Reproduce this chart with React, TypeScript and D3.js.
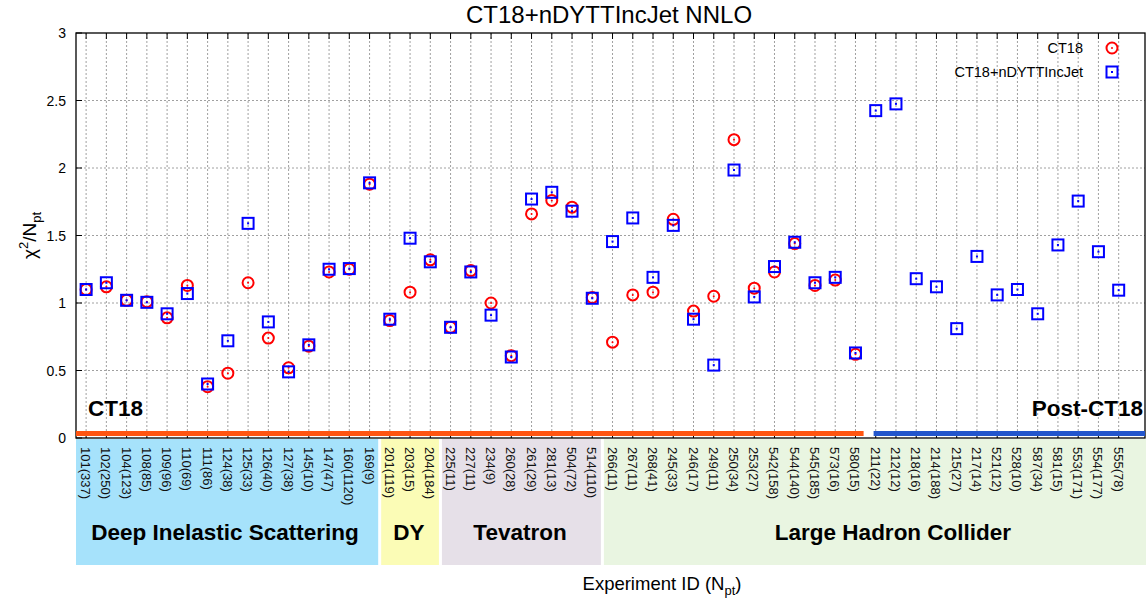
import * as d3 from "d3";

// experiment ids with number of points
const labels = [
  "101(337)", "102(250)", "104(123)", "108(85)", "109(96)", "110(69)", "111(86)", "124(38)",
  "125(33)", "126(40)", "127(38)", "145(10)", "147(47)", "160(1120)", "169(9)",
  "201(119)", "203(15)", "204(184)",
  "225(11)", "227(11)", "234(9)", "260(28)", "261(29)", "281(13)", "504(72)", "514(110)",
  "266(11)", "267(11)", "268(41)", "245(33)", "246(17)", "249(11)", "250(34)", "253(27)",
  "542(158)", "544(140)", "545(185)", "573(16)", "580(15)",
  "211(22)", "212(12)", "218(16)", "214(188)", "215(27)", "217(14)", "521(12)", "528(10)",
  "587(34)", "581(15)", "553(171)", "554(177)", "555(78)",
];

// chi2/Npt for CT18 (null = not in CT18 fit)
const ct18 = [
  1.10, 1.12, 1.02, 1.01, 0.89, 1.13, 0.38, 0.48, 1.15, 0.74, 0.52, 0.68, 1.23, 1.25, 1.88,
  0.87, 1.08, 1.32,
  0.82, 1.24, 1.00, 0.61, 1.66, 1.76, 1.71, 1.04,
  0.71, 1.06, 1.08, 1.62, 0.94, 1.05, 2.21, 1.11, 1.23, 1.44, 1.13, 1.17, 0.62,
  null, null, null, null, null, null, null, null, null, null, null, null, null,
];

const ct18New = [
  1.10, 1.15, 1.02, 1.005, 0.92, 1.07, 0.40, 0.72, 1.59, 0.86, 0.49, 0.69, 1.25, 1.255, 1.89,
  0.88, 1.48, 1.305,
  0.82, 1.23, 0.91, 0.60, 1.77, 1.82, 1.68, 1.035,
  1.455, 1.63, 1.19, 1.575, 0.88, 0.54, 1.985, 1.045, 1.27, 1.45, 1.15, 1.19, 0.63,
  2.425, 2.475, 1.18, 1.12, 0.81, 1.345, 1.06, 1.10, 0.92, 1.43, 1.755, 1.38, 1.095,
];

const groups = [
  { name: "Deep Inelastic Scattering", from: 0, to: 14, color: "#a6e2fb", cx: 225 },
  { name: "DY", from: 15, to: 17, color: "#fbfcb6", cx: 409 },
  { name: "Tevatron", from: 18, to: 25, color: "#e6e0e8", cx: 520 },
  { name: "Large Hadron Collider", from: 26, to: 51, color: "#e9f5e1", cx: 893 },
];

const yTicks = [0, 0.5, 1, 1.5, 2, 2.5, 3];

const W = 1146;
const H = 600;
const left = 76;
const right = 1145;
const top = 33;
const bottom = 438;
const font = "Liberation Sans, Arial, sans-serif";

export default function App() {
  const x = d3.scaleLinear().domain([-0.5, 52.3]).range([left, right]);
  const y = d3.scaleLinear().domain([0, 3]).range([bottom, top]);

  return (
    <svg width={W} height={H} style={{ position: "absolute", left: 0, top: 0 }} fontFamily={font}>
      <rect width={W} height={H} fill="#fff" />
      {/* group boxes below axis */}
      {groups.map((g) => {
        const x0 = g.from === 0 ? left : x(g.from - 0.5) + 1.5;
        const x1 = g.to === labels.length - 1 ? W : x(g.to + 0.5) - 1.5;
        return <rect key={g.name} x={x0} y={bottom + 1} width={x1 - x0} height={126} fill={g.color} />;
      })}
      {/* grid */}
      {labels.map((_, i) => (
        <line key={"vg" + i} x1={x(i)} x2={x(i)} y1={top} y2={bottom} stroke="#888" strokeWidth={0.8} strokeDasharray="2,2" />
      ))}
      {yTicks.slice(1, -1).map((t) => (
        <line key={"hg" + t} x1={left} x2={right} y1={y(t)} y2={y(t)} stroke="#888" strokeWidth={0.8} strokeDasharray="2,2" />
      ))}
      {/* frame */}
      <rect x={left} y={top} width={right - left} height={bottom - top} fill="none" stroke="#000" strokeWidth={1.3} />
      {yTicks.map((t) => (
        <g key={"yt" + t}>
          <line x1={left} x2={left + 6} y1={y(t)} y2={y(t)} stroke="#000" />
          <text x={left - 10} y={y(t) + 5} textAnchor="end" fontSize={14}>{t}</text>
        </g>
      ))}
      {labels.map((l, i) => (
        <g key={"xt" + i}>
          <line x1={x(i)} x2={x(i)} y1={bottom} y2={bottom - 6} stroke="#000" />
          <line x1={x(i)} x2={x(i)} y1={top} y2={top + 6} stroke="#000" />
          <text transform={`translate(${x(i) - 5},${bottom + 9}) rotate(90)`} fontSize={13} fill="#111">
            {l}
          </text>
        </g>
      ))}
      {groups.map((g) => (
        <text key={"gl" + g.name} x={g.cx} y={540} textAnchor="middle" fontSize={22.5} fontWeight="bold">
          {g.name}
        </text>
      ))}
      {/* CT18 / Post-CT18 bars */}
      <rect x={left} y={431} width={x(38.5) - left - 2} height={5} fill="#ff5511" />
      <rect x={x(38.5) + 8} y={431} width={right - x(38.5) - 8} height={5} fill="#2255cc" />
      <text x={88} y={416} fontSize={22.5} fontWeight="bold">CT18</text>
      <text x={1143} y={416} fontSize={22.5} fontWeight="bold" textAnchor="end">Post-CT18</text>
      {/* points */}
      {ct18.map((v, i) =>
        v === null ? null : (
          <g key={"c" + i}>
            <circle cx={x(i)} cy={y(v)} r={5.5} fill="none" stroke="#ff0000" strokeWidth={2} />
            <circle cx={x(i)} cy={y(v)} r={1} fill="#ff0000" />
          </g>
        )
      )}
      {ct18New.map((v, i) => (
        <g key={"s" + i}>
          <rect x={x(i) - 5.5} y={y(v) - 5.5} width={11} height={11} fill="none" stroke="#0000ff" strokeWidth={2} />
          <rect x={x(i) - 1} y={y(v) - 1} width={2} height={2} fill="#0000ff" />
        </g>
      ))}
      {/* legend */}
      <text x={1083} y={53} fontSize={14.5} textAnchor="end">CT18</text>
      <circle cx={1112} cy={48} r={5.5} fill="none" stroke="#ff0000" strokeWidth={2} />
      <circle cx={1112} cy={48} r={1} fill="#ff0000" />
      <text x={1083} y={77} fontSize={14.5} textAnchor="end">CT18+nDYTTIncJet</text>
      <rect x={1106.5} y={66.5} width={11} height={11} fill="none" stroke="#0000ff" strokeWidth={2} />
      <rect x={1111} y={71} width={2} height={2} fill="#0000ff" />
      {/* titles */}
      <text x={609} y={23} textAnchor="middle" fontSize={24}>CT18+nDYTTIncJet NNLO</text>
      <text transform={`translate(36,${(top + bottom) / 2}) rotate(-90)`} textAnchor="middle" fontSize={19}>
        χ<tspan dy={-8} fontSize={13}>2</tspan><tspan dy={8}>/N</tspan><tspan dy={5} fontSize={13}>pt</tspan>
      </text>
      <text x={662} y={590} textAnchor="middle" fontSize={18.5}>
        Experiment ID (N<tspan dy={5} fontSize={13}>pt</tspan><tspan dy={-5}>)</tspan>
      </text>
    </svg>
  );
}
